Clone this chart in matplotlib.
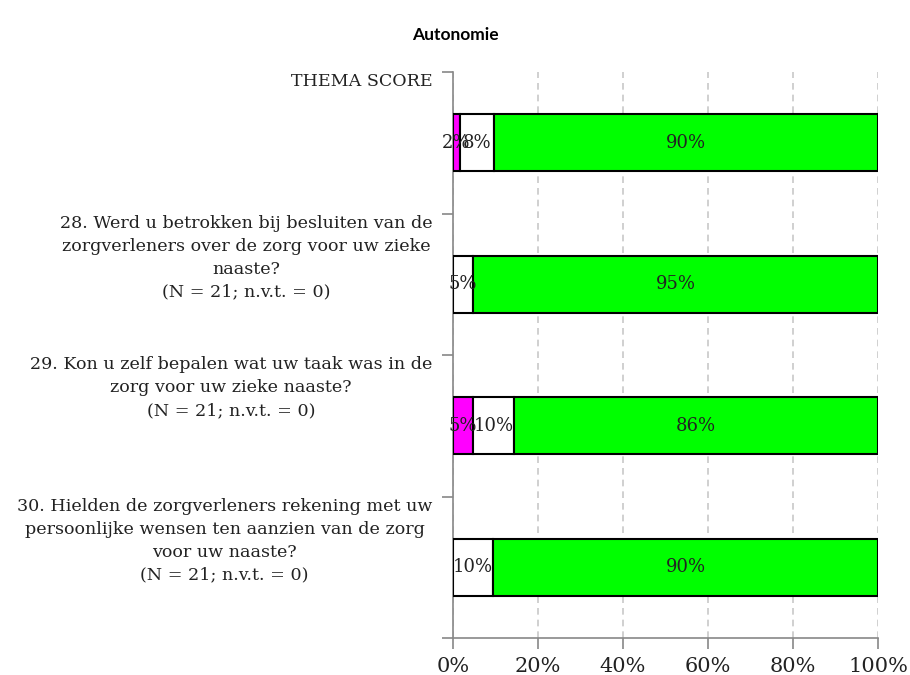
import matplotlib
matplotlib.use("Agg")
import matplotlib.pyplot as plt
import numpy as np

categories = [
    "THEMA SCORE",
    "28. Werd u betrokken bij besluiten van de\nzorgverleners over de zorg voor uw zieke\nnaaste?\n(N = 21; n.v.t. = 0)",
    "29. Kon u zelf bepalen wat uw taak was in de\nzorg voor uw zieke naaste?\n(N = 21; n.v.t. = 0)",
    "30. Hielden de zorgverleners rekening met uw\npersoonlijke wensen ten aanzien van de zorg\nvoor uw naaste?\n(N = 21; n.v.t. = 0)",
]
neg = [1.59, 0.0, 4.76, 0.0]
neutral = [7.94, 4.76, 9.52, 9.52]
pos = [90.48, 95.24, 85.71, 90.48]
series = [neg, neutral, pos]
colors = ["#FF00FF", "#FFFFFF", "#00FF00"]
xticks = [0, 20, 40, 60, 80, 100]
xticklabels = ["0%", "20%", "40%", "60%", "80%", "100%"]

FONT = "DejaVu Serif"

fig = plt.figure(figsize=(9.1, 6.75), dpi=100)
ax = fig.add_axes([453/910, 1 - 638/675, (878-453)/910, (638-72)/675])

n = len(categories)
ypos = np.arange(n)[::-1] + 0.5
left = np.zeros(n)
for vals, c in zip(series, colors):
    vals = np.array(vals)
    ax.barh(ypos, vals, left=left, height=0.4, color=c, edgecolor="black", linewidth=1.5, zorder=3)
    for y, l, v in zip(ypos, left, vals):
        if v > 0:
            ax.text(l + v / 2, y, f"{round(v)}%", ha="center", va="center",
                    fontsize=13, family=FONT, color="#222222", zorder=4)
    left = left + vals

ax.set_xlim(0, 100)
ax.set_ylim(0, n)
ax.set_xticks(xticks)
ax.set_xticklabels(xticklabels, family=FONT, fontsize=15, color="#222222")
ax.set_yticks(np.arange(n + 1))
ax.set_yticklabels([])
ax.tick_params(axis="both", direction="out", length=8, color="#888888", width=1.2)
ax.tick_params(axis="x", pad=6)
for s in ["top", "right"]:
    ax.spines[s].set_visible(False)
for s in ["left", "bottom"]:
    ax.spines[s].set_color("#888888")
    ax.spines[s].set_linewidth(1.2)
ax.xaxis.grid(True, linestyle=(0, (4, 3)), color="#C8C8C8", linewidth=1.2, zorder=0)
ax.set_axisbelow(True)

for i, cat in enumerate(categories):
    ytop = n - i
    ax.annotate(cat, xy=(0, ytop), xycoords=("axes fraction", "data"),
                xytext=(-15, -1), textcoords="offset points",
                ha="right", va="top", multialignment="center",
                fontsize=12.6, family=FONT, color="#222222", linespacing=1.45)

fig.text(0.5, 1 - 35/675, "Autonomie", ha="center", va="center", fontsize=12.5,
         fontweight="bold", family="Lato")

fig.savefig("out.png", dpi=100)
